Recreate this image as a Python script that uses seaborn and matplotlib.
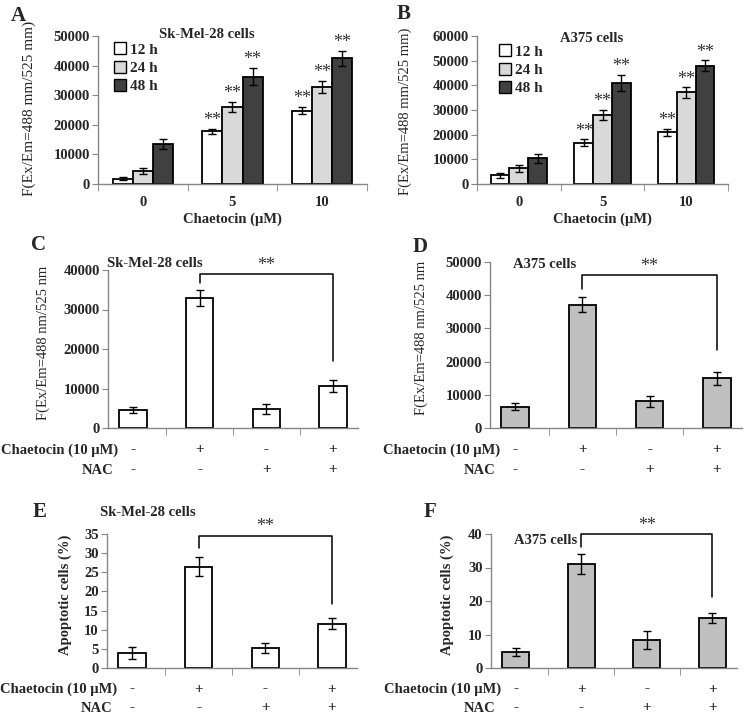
import matplotlib
matplotlib.use('Agg')
import matplotlib.pyplot as plt
import seaborn as sns
import pandas as pd
from matplotlib.lines import Line2D

# panels A/B: ROS over time
doses = ['0', '5', '10']
times = ['12 h', '24 h', '48 h']
time_colors = ['white', '#d9d9d9', '#404040']

sk_12h = [1800, 17800, 24800]
sk_24h = [4300, 26000, 32900]
sk_48h = [13500, 36300, 42400]
sk_12h_err = [400, 800, 1300]
sk_24h_err = [1000, 1800, 2000]
sk_48h_err = [1600, 2900, 2600]

a375_12h = [3500, 16800, 21000]
a375_24h = [6300, 28000, 37100]
a375_48h = [10400, 41000, 48000]
a375_12h_err = [1100, 1400, 1500]
a375_24h_err = [1400, 2100, 2100]
a375_48h_err = [1900, 3200, 2200]

# panels C-F: chaetocin +/- NAC
conds = ['ctrl', 'chaetocin', 'nac', 'chaetocin+nac']
chaetocin_signs = ['-', '+', '-', '+']
nac_signs = ['-', '-', '+', '+']

sk_ros = [4600, 33000, 4800, 10600]
sk_ros_err = [800, 2000, 1300, 1600]
a375_ros = [6400, 37100, 8000, 15000]
a375_ros_err = [1100, 2300, 1700, 2000]

sk_apo = [3.9, 26.5, 5.2, 11.6]
sk_apo_err = [1.6, 2.5, 1.3, 1.4]
a375_apo = [4.8, 31.1, 8.4, 14.9]
a375_apo_err = [1.3, 3.0, 2.6, 1.5]

sns.set_style('ticks')
plt.rcParams['font.family'] = ['Liberation Serif', 'DejaVu Serif']
plt.rcParams['font.weight'] = 'bold'
plt.rcParams['axes.labelweight'] = 'bold'

AXCOL = '#868686'
STARCOL = '#333333'


def style_axes(ax, ymax, step, ncat):
    ax.set_ylim(0, ymax)
    ax.set_yticks(range(0, ymax + 1, step))
    sns.despine(ax=ax)
    for s in ['left', 'bottom']:
        ax.spines[s].set_color(AXCOL)
        ax.spines[s].set_linewidth(1.0)
    ax.tick_params(axis='y', direction='out', length=4, color=AXCOL, labelsize=10.5, pad=2)
    ax.tick_params(axis='x', which='major', length=0, labelsize=10.5, pad=9)
    ax.set_xticks([i - 0.5 for i in range(ncat + 1)], minor=True)
    ax.tick_params(axis='x', which='minor', length=5, color=AXCOL)
    ax.set_xlabel('')


def time_panel(ax, series, errs, ymax, step, title, title_xy, ylabel, ylab_xy, ylab_size, leg_xy):
    df = pd.DataFrame({
        'dose': doses * len(times),
        'time': [t for t in times for _ in doses],
        'value': [v for s in series for v in s],
    })
    sns.barplot(data=df, x='dose', y='value', hue='time', order=doses, hue_order=times,
                palette=time_colors, edgecolor='black', linewidth=1.3, width=0.67,
                errorbar=None, legend=False, ax=ax)
    for cont, err in zip(ax.containers, errs):
        xs = [b.get_x() + b.get_width() / 2 for b in cont]
        hs = [b.get_height() for b in cont]
        ax.errorbar(xs, hs, yerr=err, fmt='none', ecolor='black', elinewidth=1,
                    capsize=3, capthick=1)
        for x, h, e, d in zip(xs, hs, err, doses):
            if d != '0':
                ax.annotate('**', (x, h + e), xytext=(0, 8), textcoords='offset pixels',
                            ha='center', va='center', fontsize=13, fontweight='normal',
                            color=STARCOL, annotation_clip=False)
    style_axes(ax, ymax, step, len(doses))
    ax.set_xlabel('Chaetocin (μM)', fontsize=10.5, labelpad=2)
    ax.set_ylabel(ylabel, fontsize=ylab_size, fontweight='normal')
    ax.yaxis.set_label_coords(*ylab_xy)
    ax.text(*title_xy, title, transform=ax.transAxes, ha='center', va='center', fontsize=10.5)
    handles = [Line2D([0], [0], marker='s', linestyle='', markerfacecolor=c,
                      markeredgecolor='black', markersize=8) for c in time_colors]
    ax.legend(handles, times, loc='upper left', bbox_to_anchor=leg_xy, frameon=False,
              handletextpad=0.2, labelspacing=0.3, borderaxespad=0, borderpad=0,
              handlelength=0.9, prop={'weight': 'bold', 'size': 11})


def treat_panel(ax, means, errs, color, ymax, step, title, title_xy, ylabel, ylab_xy,
                ylab_weight, brk, rows):
    sns.barplot(x=conds, y=means, order=conds, color=color, saturation=1,
                edgecolor='black', linewidth=1.3, width=0.41, errorbar=None, ax=ax)
    bars = list(ax.containers[0])
    xs = [b.get_x() + b.get_width() / 2 for b in bars]
    ax.errorbar(xs, means, yerr=errs, fmt='none', ecolor='black', elinewidth=1,
                capsize=3, capthick=1)
    style_axes(ax, ymax, step, len(conds))
    ax.set_xticks(range(len(conds)))
    ax.set_xticklabels([])
    ax.set_ylabel(ylabel, fontsize=10.5, fontweight=ylab_weight)
    ax.yaxis.set_label_coords(*ylab_xy)
    ax.text(*title_xy, title, transform=ax.transAxes, ha='center', va='center', fontsize=10.5)

    # significance bracket between chaetocin alone and chaetocin + NAC
    hfrac, lgap, rgap = brk
    tops = [m + e for m, e in zip(means, errs)]
    h = hfrac * ymax
    ax.plot([xs[1], xs[1], xs[3], xs[3]],
            [tops[1] + lgap * ymax, h, h, tops[3] + rgap * ymax],
            color='black', lw=1.1, clip_on=False)
    ax.annotate('**', ((xs[1] + xs[3]) / 2, h), xytext=(0, 9), textcoords='offset pixels',
                ha='center', va='center', fontsize=13, fontweight='normal', color=STARCOL,
                annotation_clip=False)

    # treatment rows under the axis
    for label, signs, off, xr in [('Chaetocin (10 μM)', chaetocin_signs, rows[0], 0.04),
                                  ('NAC', nac_signs, rows[1], 0.02)]:
        ax.annotate(label, xy=(xr, 0), xycoords='axes fraction', xytext=(0, -off),
                    textcoords='offset pixels', ha='right', va='center', fontsize=10.5,
                    annotation_clip=False)
        for x, s in zip(xs, signs):
            ax.annotate(s, xy=(x, 0), xycoords=('data', 'axes fraction'), xytext=(0, -off),
                        textcoords='offset pixels', ha='center', va='center', fontsize=11,
                        annotation_clip=False)


fig = plt.figure(figsize=(7.5, 7.2), dpi=100)
W, H = 750, 720


def add_ax(l, r, top, bottom):
    return fig.add_axes([l / W, 1 - bottom / H, (r - l) / W, (bottom - top) / H])


axA = add_ax(98, 367, 36, 184)
axB = add_ax(477, 728, 36, 184)
axC = add_ax(108, 358, 270, 428)
axD = add_ax(490, 742, 262, 428)
axE = add_ax(107, 357, 534, 668)
axF = add_ax(491, 737, 534, 668)

time_panel(axA, [sk_12h, sk_24h, sk_48h], [sk_12h_err, sk_24h_err, sk_48h_err],
           50000, 10000, 'Sk-Mel-28 cells', (0.405, 1.013),
           'F(Ex/Em=488 mm/525 mm)', (-0.232, 0.51), 11, (0.056, 0.953))
time_panel(axB, [a375_12h, a375_24h, a375_48h], [a375_12h_err, a375_24h_err, a375_48h_err],
           60000, 10000, 'A375 cells', (0.458, 0.98),
           'F(Ex/Em=488 mm/525 mm)', (-0.26, 0.49), 10.5, (0.084, 0.94))

treat_panel(axC, sk_ros, sk_ros_err, 'white', 40000, 10000, 'Sk-Mel-28 cells', (0.188, 1.044),
            'F(Ex/Em=488 nm/525 nm', (-0.232, 0.54), 'normal', (0.972, 0.04, 0.117), (22, 42))
treat_panel(axD, a375_ros, a375_ros_err, '#c0c0c0', 50000, 10000, 'A375 cells', (0.218, 0.982),
            'F(Ex/Em=488 nm/525 nm', (-0.246, 0.54), 'normal', (0.92, 0.05, 0.128), (22, 42))
treat_panel(axE, sk_apo, sk_apo_err, 'white', 35, 5, 'Sk-Mel-28 cells', (0.164, 1.157),
            'Apoptotic cells (%)', (-0.14, 0.545), 'bold', (0.986, 0.07, 0.108), (21, 40))
treat_panel(axF, a375_apo, a375_apo_err, '#c0c0c0', 40, 10, 'A375 cells', (0.222, 0.955),
            'Apoptotic cells (%)', (-0.150, 0.545), 'bold', (1.0, 0.05, 0.122), (21, 40))

for lab, (px, py) in zip('ABCDEF', [(18, 16), (404, 14), (38, 245), (420, 247), (40, 512), (430, 512)]):
    fig.text(px / W, 1 - py / H, lab, ha='center', va='center', fontsize=15, fontweight='bold')

fig.savefig('out.png', dpi=100)
